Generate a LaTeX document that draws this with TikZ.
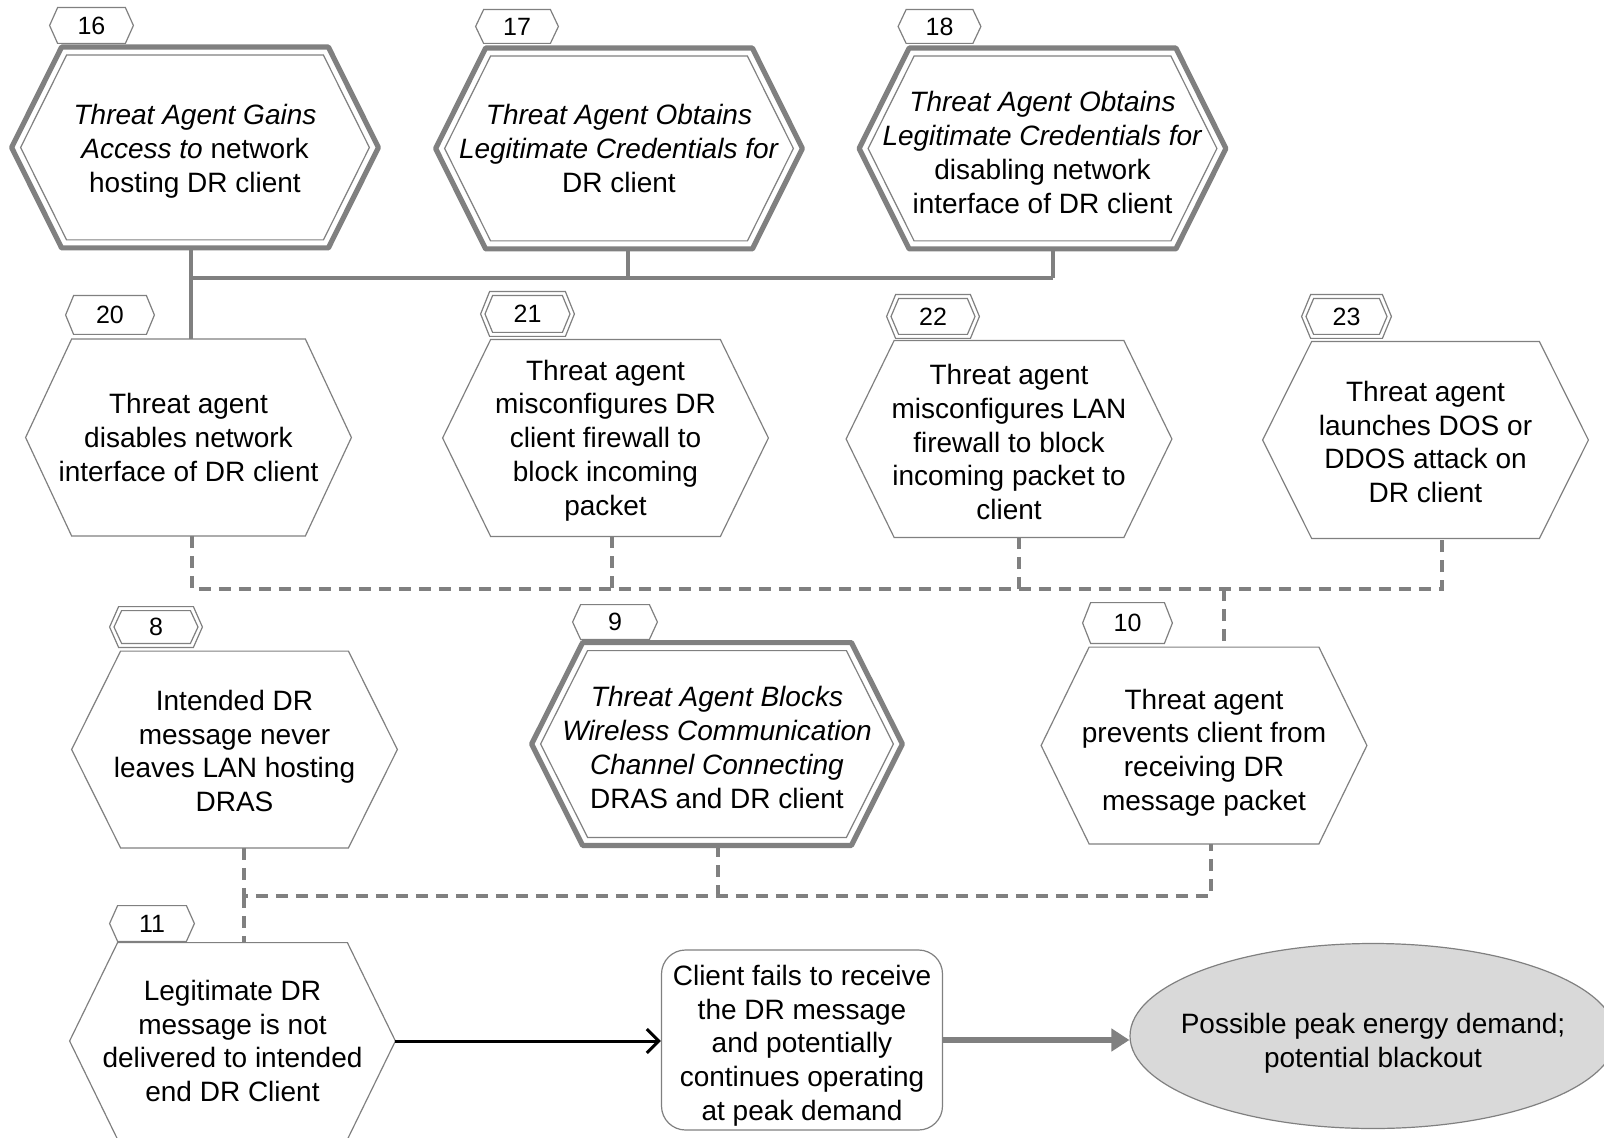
\documentclass[tikz,border=0pt]{standalone}
\usepackage{fontspec}
\setmainfont{Liberation Sans}
\usetikzlibrary{arrows.meta,shapes.geometric}
\definecolor{lc}{HTML}{808080}
\definecolor{ef}{HTML}{D9D9D9}
\newcommand\hexfont{\fontsize{14}{16.9}\selectfont}
\newcommand\tagfont{\fontsize{12.5}{14}\selectfont}
\newcommand\dn[1]{\rule{0pt}{#1}}
% #1 style, #2 node, #3 tip inset, #4 corner xshift, #5 vertical inset
\newcommand\hexline[5]{\draw[#1] ([xshift=#3]#2.west) -- ([xshift=#4,yshift=-#5]#2.north west) -- ([xshift=-#4,yshift=-#5]#2.north east) -- ([xshift=-#3]#2.east) -- ([xshift=-#4,yshift=#5]#2.south east) -- ([xshift=#4,yshift=#5]#2.south west) -- cycle;}
\begin{document}
\begin{tikzpicture}[x=0.5pt,y=-0.5pt,
 hexnode/.style={rectangle,inner sep=0pt,align=center,font=\hexfont,minimum width=162.5pt,minimum height=98pt},
 bighex/.style={hexnode,minimum width=183pt,minimum height=100pt},
 tagnode/.style={rectangle,inner sep=0pt,font=\tagfont,minimum width=42pt,minimum height=18pt},
 thinhex/.style={draw=lc,line width=0.6pt},
 thickhex/.style={draw=lc,line width=2.6pt,line join=round},
 innerhex/.style={draw=lc,line width=0.6pt},
 tagline/.style={draw=lc,line width=0.6pt},
 solidc/.style={draw=lc,line width=2pt},
 dashc/.style={draw=lc,line width=2pt,dash pattern=on 6pt off 4pt},
]
\useasboundingbox (0,0) rectangle (1604,1138);
\clip (0,0) rectangle (1604,1138);
\fill[white] (0,0) rectangle (1604,1138);

% ---- top row (double hexagons)
\node[bighex] (h16) at (195,147.5) {\dn{14.2pt}\textit{Threat Agent Gains}\\\textit{Access to} network\\hosting DR client};
\node[bighex] (h17) at (619,148.5) {\textit{Threat Agent Obtains}\\\textit{Legitimate Credentials for}\\DR client};
\node[bighex] (h18) at (1042.5,148.5) {\dn{14.2pt}\textit{Threat Agent Obtains}\\\textit{Legitimate Credentials for}\\disabling network\\interface of DR client};
\hexline{thickhex}{h16}{0pt}{25pt}{0pt}
\hexline{innerhex}{h16}{4.5pt}{27.5pt}{4pt}
\hexline{thickhex}{h17}{0pt}{25pt}{0pt}
\hexline{innerhex}{h17}{4.5pt}{27.5pt}{4pt}
\hexline{thickhex}{h18}{0pt}{25pt}{0pt}
\hexline{innerhex}{h18}{4.5pt}{27.5pt}{4pt}

\node[tagnode,minimum width=41.5pt,minimum height=17.5pt] (t16) at (91.5,25.5) {16};
\node[tagnode,minimum width=41pt,minimum height=16.5pt] (t17) at (517,26.5) {17};
\node[tagnode,minimum width=41pt,minimum height=16.5pt] (t18) at (939.5,26.5) {18};
\hexline{tagline}{t16}{0pt}{4pt}{0pt}
\hexline{tagline}{t17}{0pt}{4pt}{0pt}
\hexline{tagline}{t18}{0pt}{4pt}{0pt}

% ---- second row
\node[hexnode] (h20) at (188.5,437.5) {Threat agent\\disables network\\interface of DR client};
\node[hexnode] (h21) at (605.5,438) {\dn{12.7pt}Threat agent\\misconfigures DR\\client firewall to\\block incoming\\packet};
\node[hexnode] (h22) at (1009,439) {\dn{13.2pt}Threat agent\\misconfigures LAN\\firewall to block\\incoming packet to\\client};
\node[hexnode] (h23) at (1425.5,440) {\dn{12.2pt}Threat agent\\launches DOS or\\DDOS attack on\\DR client};
\hexline{thinhex}{h20}{0pt}{23pt}{0pt}
\hexline{thinhex}{h21}{0pt}{24pt}{0pt}
\hexline{thinhex}{h22}{0pt}{24pt}{0pt}
\hexline{thinhex}{h23}{0pt}{24.5pt}{0pt}

\node[tagnode,minimum width=44pt,minimum height=19pt] (t20) at (110,315) {20};
\node[tagnode,minimum width=46.5pt,minimum height=22pt] (t21) at (527.5,314) {21};
\node[tagnode,minimum width=46pt,minimum height=21.5pt] (t22) at (933,316.5) {22};
\node[tagnode,minimum width=44.5pt,minimum height=21.5pt] (t23) at (1346.5,316.5) {23};
\hexline{tagline}{t20}{0pt}{4pt}{0pt}
\hexline{tagline}{t21}{0pt}{4.5pt}{0pt}
\hexline{tagline}{t21}{2.2pt}{6pt}{2pt}
\hexline{tagline}{t22}{0pt}{4.5pt}{0pt}
\hexline{tagline}{t22}{2.2pt}{6pt}{2pt}
\hexline{tagline}{t23}{0pt}{4.5pt}{0pt}
\hexline{tagline}{t23}{2.2pt}{6pt}{2pt}

% ---- third row
\node[hexnode] (h8) at (234.5,749.5) {\dn{11.7pt}Intended DR\\message never\\leaves LAN hosting\\DRAS};
\node[bighex,minimum width=185pt,minimum height=101pt] (h9) at (717,744) {\dn{13.7pt}\textit{Threat Agent Blocks}\\\textit{Wireless Communication}\\\textit{Channel Connecting}\\DRAS and DR client};
\node[hexnode] (h10) at (1204,745.5) {\dn{17.2pt}Threat agent\\prevents client from\\receiving DR\\message packet};
\hexline{thinhex}{h8}{0pt}{24.5pt}{0pt}
\hexline{thickhex}{h9}{0pt}{25.5pt}{0pt}
\hexline{innerhex}{h9}{4.5pt}{28pt}{4pt}
\hexline{thinhex}{h10}{0pt}{24pt}{0pt}

\node[tagnode,minimum width=46pt,minimum height=20pt] (t8) at (156,627) {8};
\node[tagnode,minimum width=42pt,minimum height=17pt] (t9) at (615,622) {9};
\node[tagnode,minimum width=44.5pt,minimum height=20pt] (t10) at (1127.5,623) {10};
\hexline{tagline}{t8}{0pt}{4.5pt}{0pt}
\hexline{tagline}{t8}{2.2pt}{6pt}{2pt}
\hexline{tagline}{t9}{0pt}{4pt}{0pt}
\hexline{tagline}{t10}{0pt}{4pt}{0pt}

% ---- bottom row
\node[hexnode] (h11) at (232.5,1041) {Legitimate DR\\message is not\\delivered to intended\\end DR Client};
\hexline{thinhex}{h11}{0pt}{24pt}{0pt}
\node[tagnode,minimum width=42pt,minimum height=17.5pt] (t11) at (152,923.5) {11};
\hexline{tagline}{t11}{0pt}{4pt}{0pt}

\node[draw=lc,line width=0.6pt,rounded corners=12pt,minimum width=140.5pt,minimum height=90pt,align=center,font=\hexfont,inner sep=0pt] (cf) at (802,1040) {\dn{15.7pt}Client fails to receive\\the DR message\\and potentially\\continues operating\\at peak demand};
\node[ellipse,draw=lc,fill=ef,line width=0.6pt,minimum width=243pt,minimum height=92.5pt,inner sep=0pt] (el) at (1373,1036) {};
\node[align=center,font=\hexfont,inner sep=0pt] (elt) at (1373,1043) {Possible peak energy demand;\\potential blackout};

% ---- solid connectors
\coordinate (j1) at (191,278);
\coordinate (j17) at (628,278);
\coordinate (j18) at (1053,278);
\draw[solidc] (h16.south -| j1) -- (h20.north -| j1);
\draw[solidc] (j1) -- (j18);
\draw[solidc] (h17.south -| j17) -- (j17);
\draw[solidc] (h18.south -| j18) -- (j18);

% ---- dashed connectors (upper)
\coordinate (d0) at (192,589);
\coordinate (d1) at (1224,589);
\coordinate (d23) at (1442,589);
\coordinate (d21) at (612,589);
\coordinate (d22) at (1019,589);
\draw[dashc] (h20.south -| d0) -- (d0) -- (d23) -- (h23.south -| d23);
\draw[dashc] (h21.south -| d21) -- (d21);
\draw[dashc] (h22.south -| d22) -- (d22);
\draw[dashc] (d1) -- (h10.north -| d1);

% ---- dashed connectors (lower)
\coordinate (d2) at (244,896);
\coordinate (d9) at (718,896);
\coordinate (d10) at (1211,896);
\draw[dashc] (h8.south -| d2) -- (d2) -- (d10) -- (h10.south -| d10);
\draw[dashc] (h9.south -| d9) -- (d9);
\draw[dashc] (d2) -- (h11.north -| d2);

% ---- arrows
\draw[line width=1.5pt,-{Straight Barb[length=6pt,width=12pt]}] (h11.east) -- (h11.east -| cf.west);
\draw[draw=lc,line width=3pt,-{Triangle[length=9pt,width=11pt]}] (cf.east) -- (cf.east -| el.west);
\end{tikzpicture}
\end{document}
